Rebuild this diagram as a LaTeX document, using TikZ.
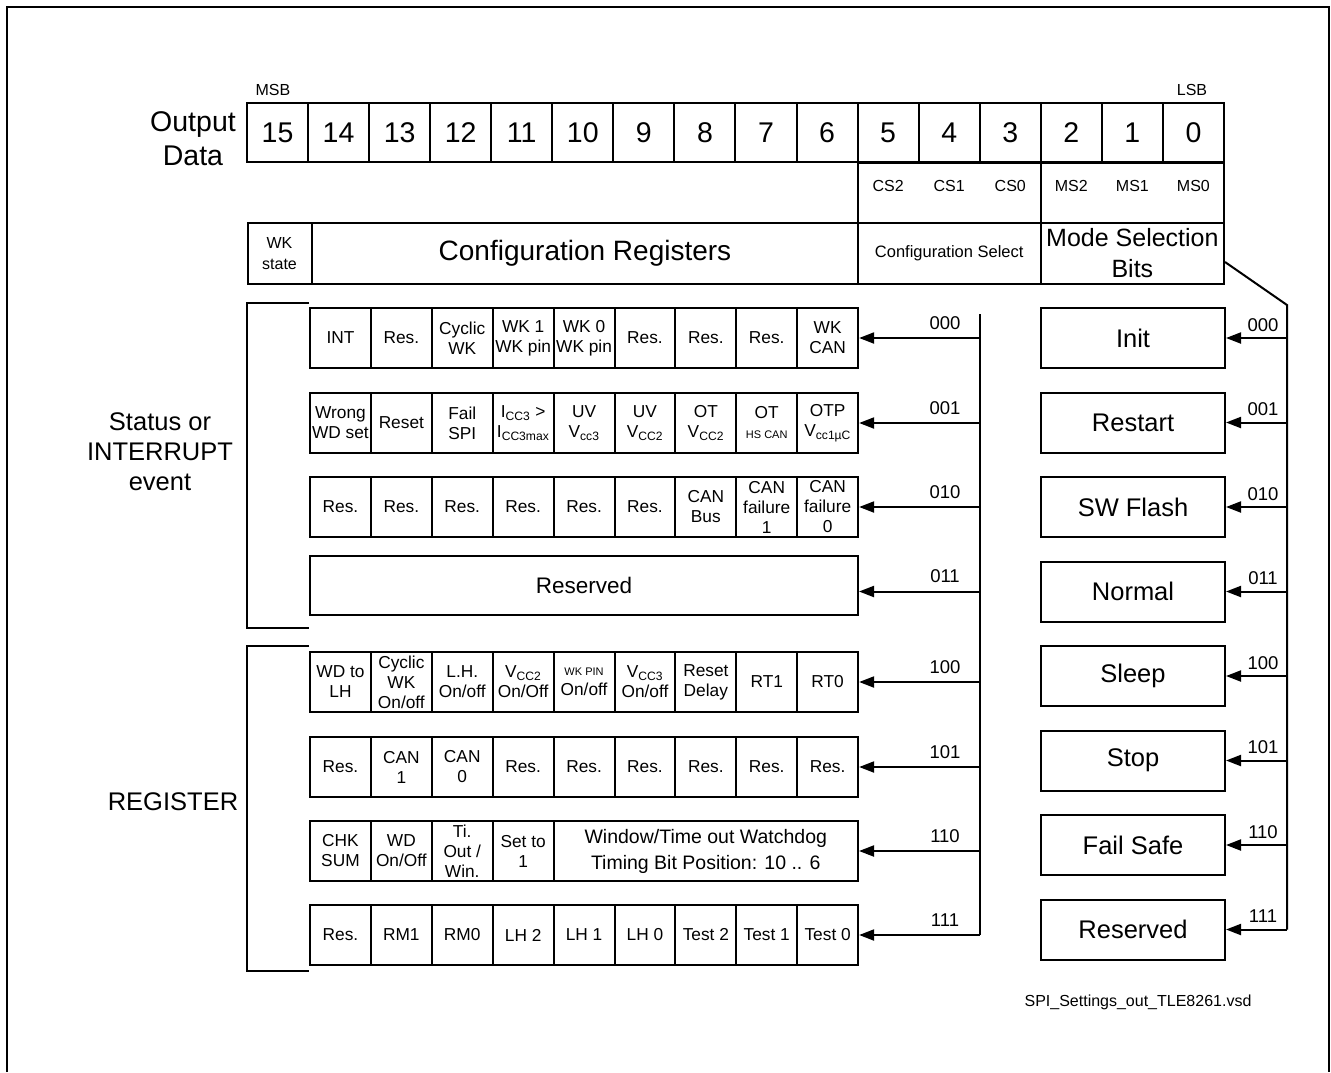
\documentclass[tikz,border=0pt]{standalone}
\usepackage{fontspec}
\setmainfont{Liberation Sans}
\usetikzlibrary{arrows.meta}
\tikzset{
  box/.style     ={draw,line width=2pt,inner sep=0pt,align=center},
  bitbox/.style  ={box,minimum width=61.06pt,minimum height=59.5pt,font=\fontsize{28.5}{32}\selectfont},
  regcell/.style ={box,minimum width=60.9pt,minimum height=60pt,font=\fontsize{17.3}{20}\selectfont},
  modebox/.style ={box,minimum width=184pt,minimum height=60pt,font=\fontsize{25.5}{30}\selectfont},
  bus/.style     ={line width=2pt},
  ar/.style      ={-{Triangle[length=15pt,width=11pt]},line width=2pt},
  codelbl/.style ={font=\fontsize{18.5}{22}\selectfont,inner sep=1pt},
  tag/.style     ={font=\fontsize{16}{19}\selectfont,inner sep=1pt},
  side/.style    ={font=\fontsize{25.5}{30}\selectfont,align=center,inner sep=1pt},
}
\newcommand{\sm}[1]{{\fontsize{11}{13}\selectfont #1}}

\begin{document}
\begin{tikzpicture}[x=1pt,y=-1pt]
  \useasboundingbox (0,0) rectangle (1331,1072);
  \draw[line width=1.3pt] (7,1072) -- (7,7) -- (1329,7) -- (1329,1072);

  % output word
  \node[side,font=\fontsize{28.5}{34}\selectfont] (outdata) at (193,139) {Output\\Data};
  \node[tag] (msb) at (273,90) {MSB};
  \node[tag] (lsb) at (1192,90) {LSB};
  \foreach \b [count=\i from 0] in {15,14,...,0}
    \node[bitbox] (b\b) at ({277.53+61.06*\i},132.5) {\b};
  \node[box,minimum width=183.2pt,minimum height=60pt] (csbox) at (949.2,192.5) {};
  \node[box,minimum width=183.2pt,minimum height=60pt] (msbox) at (1132.4,192.5) {};
  \foreach \t [count=\i from 10] in {CS2,CS1,CS0,MS2,MS1,MS0}
    \node[tag] at ({277.53+61.06*\i},186) {\t};
  \node[box,minimum width=64pt,minimum height=61pt,font=\fontsize{16}{21}\selectfont] (wkstate) at (279.5,253.5) {WK\\state};
  \node[box,minimum width=546pt,minimum height=61pt,font=\fontsize{28}{32}\selectfont] (cfgreg) at (585,253.5) {Configuration Registers};
  \node[box,minimum width=183.2pt,minimum height=61pt,font=\fontsize{16.5}{20}\selectfont] (cfgsel) at (949.2,253.5) {Configuration Select};
  \node[box,minimum width=183.2pt,minimum height=61pt,font=\fontsize{25}{31}\selectfont] (modesel) at (1132.4,253.5) {Mode Selection\\Bits};

  % brackets
  \draw[bus] (309,302.5) -- (247,302.5) -- (247,627.5) -- (309,627.5);
  \draw[bus] (309,645.5) -- (247,645.5) -- (247,971) -- (309,971);
  \node[side] (status) at (160,452) {Status or\\INTERRUPT\\event};
  \node[side] (register) at (173,802) {REGISTER};

  % status rows
  \foreach \t [count=\i from 0] in {INT,Res.,{Cyclic\\WK},{WK 1\\WK pin},{WK 0\\WK pin},Res.,Res.,Res.,{WK\\CAN}}
    \node[regcell] (sa\i) at ({340.45+60.9*\i},338) {\t};
  \foreach \t [count=\i from 0] in {{Wrong\\WD set},Reset,{Fail\\SPI},{I\textsubscript{CC3} >\\I\textsubscript{CC3max}},{UV\\V\textsubscript{cc3}},{UV\\V\textsubscript{CC2}},{OT\\V\textsubscript{CC2}},{OT\\\sm{HS CAN}},{OTP\\V\textsubscript{cc1µC}}}
    \node[regcell] (sb\i) at ({340.45+60.9*\i},423) {\t};
  \foreach \t [count=\i from 0] in {Res.,Res.,Res.,Res.,Res.,Res.,{CAN\\Bus},{CAN\\failure\\1},{CAN\\failure\\0}}
    \node[regcell] (sc\i) at ({340.45+60.9*\i},507) {\t};
  \node[box,minimum width=548pt,minimum height=59pt,font=\fontsize{22.5}{26}\selectfont] (sd) at (584,585.5) {Reserved};

  % register rows
  \foreach \t [count=\i from 0] in {{WD to\\LH},{Cyclic\\WK\\On/off},{L.H.\\On/off},{V\textsubscript{CC2}\\On/Off},{\sm{WK PIN}\\On/off},{V\textsubscript{CC3}\\On/off},{Reset\\Delay},RT1,RT0}
    \node[regcell] (ra\i) at ({340.45+60.9*\i},682) {\t};
  \foreach \t [count=\i from 0] in {Res.,{CAN\\1},{CAN\\0},Res.,Res.,Res.,Res.,Res.,Res.}
    \node[regcell] (rb\i) at ({340.45+60.9*\i},767) {\t};
  \foreach \t [count=\i from 0] in {{CHK\\SUM},{WD\\On/Off},{Ti.\\Out /\\Win.},{Set to\\1}}
    \node[regcell] (rc\i) at ({340.45+60.9*\i},851) {\t};
  \node[box,minimum width=304.5pt,minimum height=60pt,font=\fontsize{19.5}{26}\selectfont] (rcw) at (705.75,851) {Window/Time out Watchdog\\Timing Bit Position: 10 .. 6};
  \foreach \t [count=\i from 0] in {Res.,RM1,RM0,LH 2,LH 1,LH 0,Test 2,Test 1,Test 0}
    \node[regcell] (rd\i) at ({340.45+60.9*\i},935) {\t};

  % configuration select bus
  \coordinate (lbtop) at (980,314);
  \foreach \y [count=\i from 0] in {338,423,507,591.5,682,767,851,935}
    \coordinate (lb\i) at (980,\y);
  \draw[bus] (lbtop) -- (lb7);
  \draw[ar] (lb0) -- (sa8.east);
  \draw[ar] (lb1) -- (sb8.east);
  \draw[ar] (lb2) -- (sc8.east);
  \draw[ar] (lb3) -- (lb3 -| sd.east);
  \draw[ar] (lb4) -- (ra8.east);
  \draw[ar] (lb5) -- (rb8.east);
  \draw[ar] (lb6) -- (rcw.east);
  \draw[ar] (lb7) -- (rd8.east);
  \foreach \c [count=\i from 0] in {000,001,010,011,100,101,110,111}
    \node[codelbl] at ([xshift=-35pt,yshift=15pt]lb\i) {\c};

  % mode selection bus
  \foreach \n/\t/\y [count=\i from 0] in {init/Init/338,restart/Restart/422.5,swflash/SW Flash/507,normal/Normal/591.5,sleep/Sleep/676,stop/Stop/760.5,failsafe/Fail Safe/845,resmode/Reserved/929.5}{
    \node[modebox] (\n) at (1133,\y) {\t};
    \coordinate (mb\i) at (1287,\y);
    \draw[ar] (mb\i) -- (\n.east);
  }
  \coordinate (kink) at (1287,305);
  \draw[bus] ([yshift=-8.5pt]modesel.east) -- (kink) -- (mb7);
  \foreach \c [count=\i from 0] in {000,001,010,011,100,101,110,111}
    \node[codelbl] at ([xshift=-24pt,yshift=13pt]mb\i) {\c};

  \node[tag] (file) at (1138,1002) {SPI\_Settings\_out\_TLE8261.vsd};
\end{tikzpicture}
\end{document}
